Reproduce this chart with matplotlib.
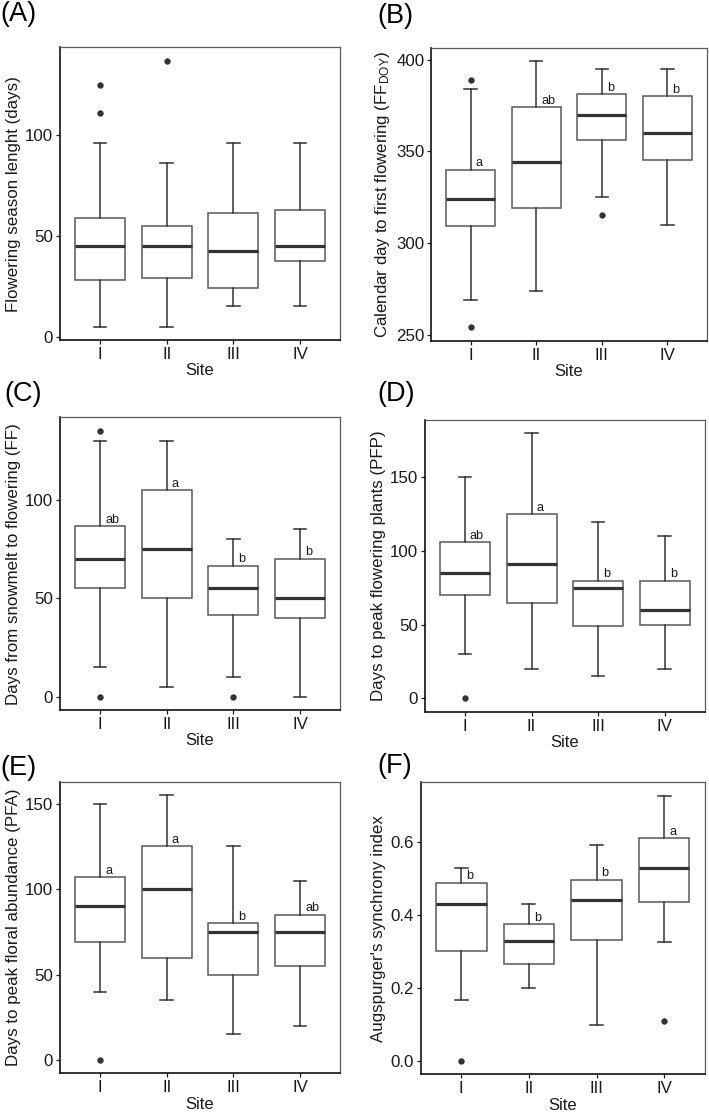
import matplotlib
matplotlib.use('Agg')
import matplotlib.pyplot as plt
from matplotlib.transforms import offset_copy
from matplotlib.ticker import FormatStrFormatter

plt.rcParams['font.family'] = ['Liberation Sans', 'DejaVu Sans']
plt.rcParams['mathtext.fontset'] = 'custom'
plt.rcParams['mathtext.rm'] = 'Liberation Sans'
plt.rcParams['mathtext.it'] = 'Liberation Sans:italic'

sites = ['I', 'II', 'III', 'IV']

# (A) Flowering season length
a_whislo = [5, 5, 15, 15]
a_q1 = [28, 29, 24, 37.5]
a_med = [45, 45, 42.5, 45]
a_q3 = [59, 55, 61.5, 63]
a_whishi = [96, 86, 96, 96]
a_fliers = [[111, 125], [137], [], []]
a_letters = ['', '', '', '']

# (B) Calendar day to first flowering
b_whislo = [269, 274, 325, 310]
b_q1 = [309, 319, 356, 345]
b_med = [324, 344, 370, 360]
b_q3 = [340, 374, 381, 380]
b_whishi = [384, 399, 395, 395]
b_fliers = [[254, 389], [], [315], []]
b_letters = ['a', 'ab', 'b', 'b']

# (C) Days from snowmelt to flowering
c_whislo = [15, 5, 10, 0]
c_q1 = [55, 50, 41.5, 40]
c_med = [70, 75, 55, 50]
c_q3 = [86.5, 105, 66.5, 70]
c_whishi = [130, 130, 80, 85]
c_fliers = [[0, 135], [], [0], []]
c_letters = ['ab', 'a', 'b', 'b']

# (D) Days to peak flowering plants
d_whislo = [30, 20, 15, 20]
d_q1 = [70, 65, 49, 50]
d_med = [85, 91, 75, 60]
d_q3 = [106, 125, 80, 80]
d_whishi = [150, 180, 120, 110]
d_fliers = [[0], [], [], []]
d_letters = ['ab', 'a', 'b', 'b']

# (E) Days to peak floral abundance
e_whislo = [40, 35, 15, 20]
e_q1 = [69, 60, 50, 55]
e_med = [90, 100, 75, 75]
e_q3 = [107, 125, 80, 85]
e_whishi = [150, 155, 125, 105]
e_fliers = [[0], [], [], []]
e_letters = ['a', 'a', 'b', 'ab']

# (F) Augspurger's synchrony index
f_whislo = [0.166, 0.20, 0.099, 0.326]
f_q1 = [0.300, 0.266, 0.331, 0.434]
f_med = [0.430, 0.329, 0.440, 0.528]
f_q3 = [0.488, 0.3745, 0.495, 0.609]
f_whishi = [0.528, 0.430, 0.591, 0.7255]
f_fliers = [[0.0], [], [], [0.109]]
f_letters = ['b', 'b', 'b', 'a']

W, H = 709, 1113
fig = plt.figure(figsize=(W / 100, H / 100), dpi=100)


def add_ax(l, r, t, b):
    return fig.add_axes([l / W, 1 - b / H, (r - l) / W, (b - t) / H])


panels = [
    dict(lab='(A)', lpos=(0, 1), box=(60, 340, 47.3, 340),
         ylabel='Flowering season lenght (days)',
         data=(a_whislo, a_q1, a_med, a_q3, a_whishi, a_fliers, a_letters),
         ylim=(-1.65, 143.7), yticks=[0, 50, 100], fmt=None),
    dict(lab='(B)', lpos=(377, 3), box=(431.3, 706.7, 48.3, 340.7),
         ylabel=r'Calendar day to first flowering (FF$_{\mathrm{DOY}}$)',
         data=(b_whislo, b_q1, b_med, b_q3, b_whishi, b_fliers, b_letters),
         ylim=(246.7, 406.2), yticks=[250, 300, 350, 400], fmt=None),
    dict(lab='(C)', lpos=(4, 381), box=(60, 340, 417.3, 710),
         ylabel='Days from snowmelt to flowering (FF)',
         data=(c_whislo, c_q1, c_med, c_q3, c_whishi, c_fliers, c_letters),
         ylim=(-6.8, 142), yticks=[0, 50, 100], fmt=None),
    dict(lab='(D)', lpos=(377, 381), box=(425, 704.7, 420, 711.7),
         ylabel='Days to peak flowering plants (PFP)',
         data=(d_whislo, d_q1, d_med, d_q3, d_whishi, d_fliers, d_letters),
         ylim=(-9, 189), yticks=[0, 50, 100, 150], fmt=None),
    dict(lab='(E)', lpos=(0, 755), box=(60, 340, 782, 1073.3),
         ylabel='Days to peak floral abundance (PFA)',
         data=(e_whislo, e_q1, e_med, e_q3, e_whishi, e_fliers, e_letters),
         ylim=(-7.75, 162.75), yticks=[0, 50, 100, 150], fmt=None),
    dict(lab='(F)', lpos=(377, 753), box=(420.7, 704.7, 782.3, 1074.3),
         ylabel="Augspurger's synchrony index",
         data=(f_whislo, f_q1, f_med, f_q3, f_whishi, f_fliers, f_letters),
         ylim=(-0.036, 0.762), yticks=[0.0, 0.2, 0.4, 0.6], fmt='%.1f'),
]

dark = '#333333'
boxc = '#585858'

for p in panels:
    ax = add_ax(*p['box'])
    wl, q1, md, q3, wh, fl, lets = p['data']
    stats = []
    for i in range(4):
        stats.append(dict(whislo=wl[i], q1=q1[i], med=md[i], q3=q3[i],
                          whishi=wh[i], fliers=fl[i], label=sites[i]))
    ax.bxp(stats, positions=[1, 2, 3, 4], widths=0.75, capwidths=0.19,
           patch_artist=True,
           boxprops=dict(facecolor='white', edgecolor=boxc, linewidth=1.1),
           whiskerprops=dict(color=dark, linewidth=1.1),
           capprops=dict(color=dark, linewidth=1.1),
           medianprops=dict(color=dark, linewidth=2.3, solid_capstyle='butt'),
           flierprops=dict(marker='o', markersize=4.6, markerfacecolor=dark,
                           markeredgecolor=dark, markeredgewidth=0),
           manage_ticks=False)
    tr = offset_copy(ax.transData, fig=fig, x=5, y=3.5, units='dots')
    for i in range(4):
        if lets[i]:
            ax.text(i + 1, q3[i], lets[i], transform=tr, ha='left',
                    va='baseline', fontsize=9.2, color='#1a1a1a')
    ax.set_xlim(0.4, 4.6)
    ax.set_ylim(*p['ylim'])
    ax.set_xticks([1, 2, 3, 4])
    ax.set_xticklabels(sites)
    ax.set_yticks(p['yticks'])
    if p['fmt']:
        ax.yaxis.set_major_formatter(FormatStrFormatter(p['fmt']))
    ax.tick_params(axis='both', direction='out', length=3, width=0.9,
                   color='#1a1a1a', labelsize=12.2, labelcolor='#1a1a1a', pad=2)
    for s in ['top', 'right']:
        ax.spines[s].set_color('#5a5a5a')
        ax.spines[s].set_linewidth(0.9)
    for s in ['left', 'bottom']:
        ax.spines[s].set_color('#111111')
        ax.spines[s].set_linewidth(1.2)
    ax.set_xlabel('Site', fontsize=12, color='#1a1a1a', labelpad=1)
    ax.set_ylabel(p['ylabel'], fontsize=12.2, color='#1a1a1a', labelpad=3)
    lx, ly = p['lpos']
    fig.text(lx / W, 1 - ly / H, p['lab'], ha='left', va='top', fontsize=19.5,
             color='black')

fig.savefig('out.png', dpi=100, facecolor='white')
